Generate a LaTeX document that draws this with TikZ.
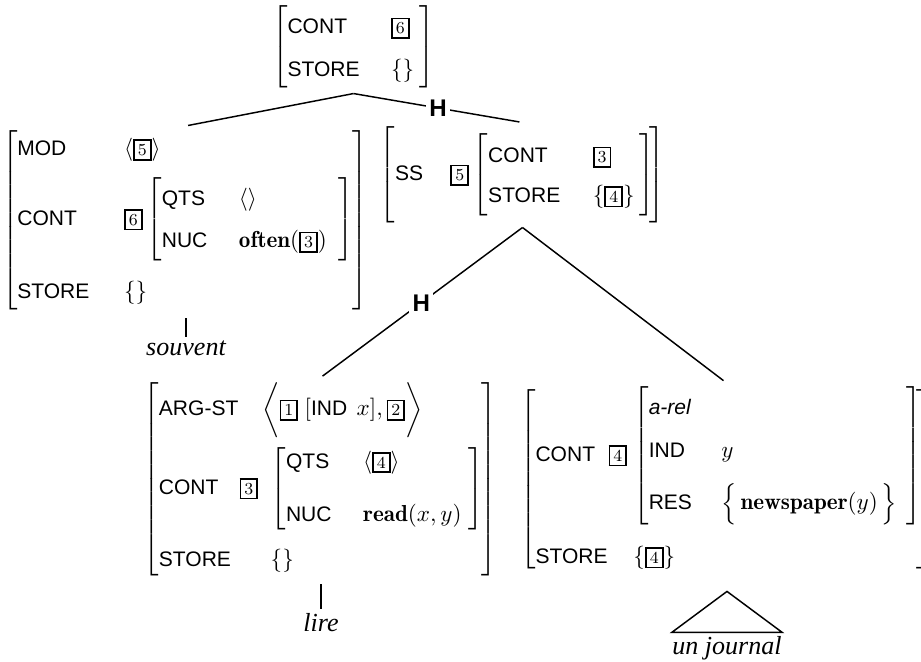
\documentclass[tikz,border=0pt]{standalone}
\usepackage{fix-cm}
\usepackage{amsmath}
\usepackage{fontspec}
\newfontfamily\featfont[Scale=0.91]{Liberation Sans}
\newfontfamily\leaffont{Liberation Serif}
\setlength{\fboxsep}{1.5pt}
\setlength{\fboxrule}{0.8pt}
\newcommand{\ft}[1]{\text{\featfont #1}}
\newcommand{\tg}[1]{\text{\fbox{\footnotesize #1}}}
\newcommand{\avmbox}[3][1]{{\renewcommand{\arraystretch}{#1}\left[\begin{array}{#2}#3\end{array}\right]}}

\begin{document}
\begin{tikzpicture}[x=0.476pt, y=-0.476pt,
  avm/.style={inner sep=0pt, outer sep=2pt, font=\fontsize{11}{12}\selectfont},
  line/.style={line width=0.7pt},
  branch/.style={line, shorten >=1.5pt},
  stem/.style={line, shorten <=2pt, shorten >=2pt},
  hd/.style={fill=white, inner sep=1.5pt, font={\featfont\bfseries\fontsize{12.6}{14}\selectfont}},
  leaf/.style={inner sep=0pt, font={\leaffont\itshape\fontsize{12.4}{14}\selectfont}}]
\useasboundingbox (0,0) rectangle (921,662);

\node[avm] (top) at (353.5,46.5)
  {$\avmbox[1.7]{@{}l@{\hspace{15pt}}l@{\hspace{2.5pt}}}{\ft{CONT} & \tg{6}\\ \ft{STORE} & \{\}}$};

\node[avm] (adv) at (185,220) {$\avmbox[1.36]{@{}l@{\hspace{16.5pt}}l@{\hspace{-0.5pt}}}{
  \ft{MOD} & \langle\tg{5}\rangle\\[5.85pt]
  \ft{CONT} & \tg{6}\,\avmbox[1.45]{@{}l@{\hspace{15pt}}l@{\hspace{5.5pt}}}{\ft{QTS} & \langle\rangle\\[2.6pt] \ft{NUC} & \mathbf{often}(\tg{3})}\\[18.5pt]
  \ft{STORE} & \{\}}$};

\node[avm] (head) at (522.5,175) {$\avmbox{@{}l@{\hspace{13pt}}l@{\hspace{-2.5pt}}}{
  \rule[-20pt]{0pt}{45.5pt}\ft{SS} & \tg{5}\,\avmbox[1.5]{@{}l@{\hspace{15.5pt}}l@{\hspace{2.5pt}}}{\ft{CONT} & \tg{3}\\[1pt] \ft{STORE} & \{\tg{4}\}}}$};

%%%%%%%%%%%%%%%%%%%%%%%%%%%%%%%%%%%%%%%%

\node[avm] (verb) at (320,479) {$\avmbox[1.25]{@{}l@{\hspace{6pt}}l@{\hspace{-1.5pt}}}{
  \ft{ARG-ST} & \hspace{-4pt}\biggl\langle\tg{1}\;[\ft{IND}\hspace{4.5pt}x],\tg{2}\biggr\rangle\\[10.05pt]
  \ft{CONT}\hspace{10pt}\tg{3} & \avmbox[1.25]{@{}l@{\hspace{15pt}}l@{\hspace{3.5pt}}}{\ft{QTS} & \langle\tg{4}\rangle\\[10.2pt] \ft{NUC} & \mathbf{read}(x,y)}\\[19.3pt]
  \ft{STORE} & \{\}}$};

\node[avm, anchor=west] (obj) at (516,479) {$\avmbox{@{}l@{\hspace{3pt}}l@{\hspace{-2.5pt}}}{
  \ft{CONT}\hspace{6.4pt}\tg{4} & \avmbox[1.54]{@{}l@{\hspace{14pt}}l@{\hspace{4.5pt}}}{
    \multicolumn{2}{@{}l@{}}{\text{\featfont\itshape a-rel}}\\[2.1pt]
    \ft{IND} & y\\[6.4pt]
    \ft{RES} & \Bigl\{\,\mathbf{newspaper}(y)\,\Bigr\}}\\[36.6pt]
  \ft{STORE} & \{\tg{4}\}}$};

\draw[branch] (top.south) -- (adv.north);
\draw[branch] (top.south) -- node[hd]{H} (head.north);
\draw[branch] (head.south) -- node[hd]{H} (verb.north);
\draw[branch] (head.south) -- (obj.north);

%%%%%%%%%%%%%%%%%%%%%%%%%%%%%%%%%%%%%%%%

\node[leaf, anchor=base] (souvent) at (186,356) {souvent};
\node[leaf, anchor=base] (lire) at (321,632) {lire};
\node[leaf, anchor=base, inner ysep=2pt] (journal) at (727,655) {un journal};
\draw[stem] (adv.south -| souvent.north) -- (souvent.north);
\draw[stem] (verb.south -| lire.north) -- (lire.north);
\path (obj.south -| journal.north) ++(0,16) coordinate (apex);
\draw[line] (apex) -- (journal.north west) -- (journal.north east) -- cycle;

\end{tikzpicture}
\end{document}
